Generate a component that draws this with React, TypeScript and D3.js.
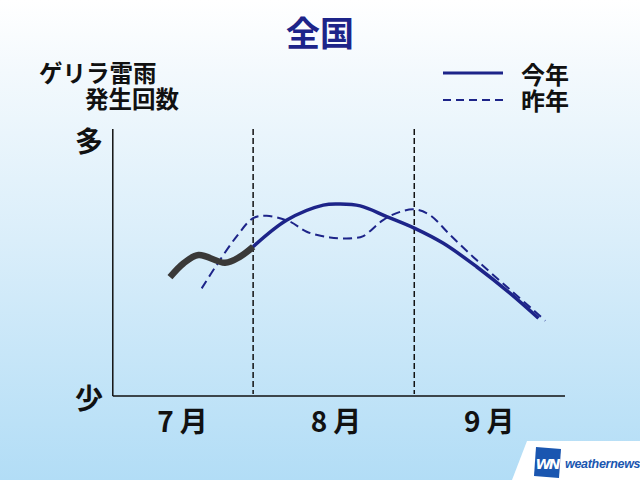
import React from "react";
import * as d3 from "d3";

const W = 640;
const H = 480;

const monthLabels = ["7月", "8月", "9月"];
const monthLabelDays = [18, 47.5, 77];
const monthBoundaryDays = [31, 62];

// [day from Jul 1, relative frequency 0..100]
const observedDays = [15.0, 17.6, 20.5, 25.6, 28.5, 31];
const observedValues = [44.5, 49.7, 52.8, 49.9, 52.2, 55.9];

const thisYearDays = [31, 37.5, 44.5, 47.7, 51.6, 56.7, 62.1, 67.6, 74.0, 80.4, 85.9];
const thisYearValues = [55.9, 65.9, 71.5, 71.9, 71.2, 67.2, 62.8, 57.2, 48.4, 38.5, 29.1];

const lastYearDays = [21.1, 24.0, 27.8, 31.0, 33.6, 38.1, 41.3, 45.8, 50.3, 52.2, 56.0, 59.3, 62.1, 65.0, 68.9, 74.0, 79.8, 84.9, 87.2];
const lastYearValues = [40.3, 49.1, 59.7, 66.6, 67.5, 65.3, 61.5, 59.4, 59.1, 59.9, 65.9, 69.0, 69.9, 67.8, 60.3, 50.9, 40.9, 32.2, 28.2];

const legendLabels = ["今年", "昨年"];

const FONT = "'Noto Sans CJK JP', 'Noto Sans', sans-serif";
const NAVY = "#1d2489";

export default function App() {
  const x = d3.scaleLinear().domain([0, 91]).range([92, 565]);
  const y = d3.scaleLinear().domain([0, 100]).range([396, 129]);
  const axisStartDay = 4;

  const line = d3
    .line<[number, number]>()
    .x((d) => x(d[0]))
    .y((d) => y(d[1]))
    .curve(d3.curveCatmullRom.alpha(0.5));

  const zip = (a: number[], b: number[]) => a.map((v, i) => [v, b[i]] as [number, number]);

  const x0 = x(axisStartDay);

  return (
    <svg
      width={W}
      height={H}
      style={{ position: "absolute", left: 0, top: 0 }}
      fontFamily={FONT}
    >
      <defs>
        <linearGradient id="bg" x1="0" y1="0" x2="0" y2="1">
          <stop offset="0" stopColor="#ffffff" />
          <stop offset="0.15" stopColor="#f3f9fd" />
          <stop offset="0.5" stopColor="#daeefa" />
          <stop offset="1" stopColor="#b2ddf6" />
        </linearGradient>
      </defs>
      <rect x={0} y={0} width={W} height={H} fill="url(#bg)" />

      {/* title */}
      <text x={320} y={46} textAnchor="middle" fontSize={34} fontWeight={700} fill={NAVY}>
        全国
      </text>

      {/* y label */}
      <text fontSize={23.5} fontWeight={700} fill="#111">
        <tspan x={39} y={82}>ゲリラ雷雨</tspan>
        <tspan x={85} y={108}>発生回数</tspan>
      </text>

      {/* legend */}
      <line x1={443} x2={503} y1={73} y2={73} stroke={NAVY} strokeWidth={3} />
      <line x1={443} x2={503} y1={100} y2={100} stroke={NAVY} strokeWidth={2} strokeDasharray="8,5" />
      <text fontSize={24} fontWeight={700} fill="#111">
        <tspan x={521} y={84}>{legendLabels[0]}</tspan>
        <tspan x={521} y={110}>{legendLabels[1]}</tspan>
      </text>

      {/* axes */}
      <line x1={x0} x2={x0} y1={y(100)} y2={y(0)} stroke="#111" strokeWidth={1.5} />
      <line x1={x0} x2={x(91)} y1={y(0)} y2={y(0)} stroke="#111" strokeWidth={1.5} />
      <text x={89} y={152} textAnchor="middle" fontSize={28} fontWeight={700} fill="#111">
        多
      </text>
      <text x={89} y={409} textAnchor="middle" fontSize={28} fontWeight={700} fill="#111">
        少
      </text>

      {/* month boundaries */}
      {monthBoundaryDays.map((d) => (
        <line
          key={d}
          x1={x(d)}
          x2={x(d)}
          y1={y(100)}
          y2={y(0) - 2}
          stroke="#111"
          strokeWidth={1.5}
          strokeDasharray="6,3"
        />
      ))}

      {/* month labels */}
      {monthLabels.map((m, i) => (
        <text
          key={m}
          x={x(monthLabelDays[i])}
          y={432}
          textAnchor="middle"
          fontSize={28}
          fontWeight={700}
          fill="#111"
          letterSpacing={6}
        >
          {m}
        </text>
      ))}

      {/* series */}
      <path
        d={line(zip(lastYearDays, lastYearValues)) || ""}
        fill="none"
        stroke={NAVY}
        strokeWidth={2}
        strokeDasharray="9,5"
      />
      <path
        d={line(zip(thisYearDays, thisYearValues)) || ""}
        fill="none"
        stroke={NAVY}
        strokeWidth={3.5}
      />
      <path
        d={line(zip(observedDays, observedValues)) || ""}
        fill="none"
        stroke="#3a3938"
        strokeWidth={6.5}
      />

      {/* logo */}
      <polygon points="527,441 640,441 640,480 512,480" fill="#ffffff" />
      <g transform="translate(534,447)">
        <polygon points="2,0 27,2 25,31 0,29" fill="#1a56b0" />
        <text
          x={13}
          y={22}
          textAnchor="middle"
          fontSize={14}
          fontWeight={900}
          fontStyle="italic"
          fill="#ffffff"
          fontFamily="'DejaVu Sans', sans-serif"
          letterSpacing={-2}
        >
          WN
        </text>
      </g>
      <text
        x={565}
        y={468}
        fontSize={12.5}
        fontWeight={700}
        fontStyle="italic"
        fill="#1a56b0"
        fontFamily="'Liberation Sans', Arial, sans-serif"
        letterSpacing={-0.3}
      >
        weathernews
      </text>
    </svg>
  );
}
